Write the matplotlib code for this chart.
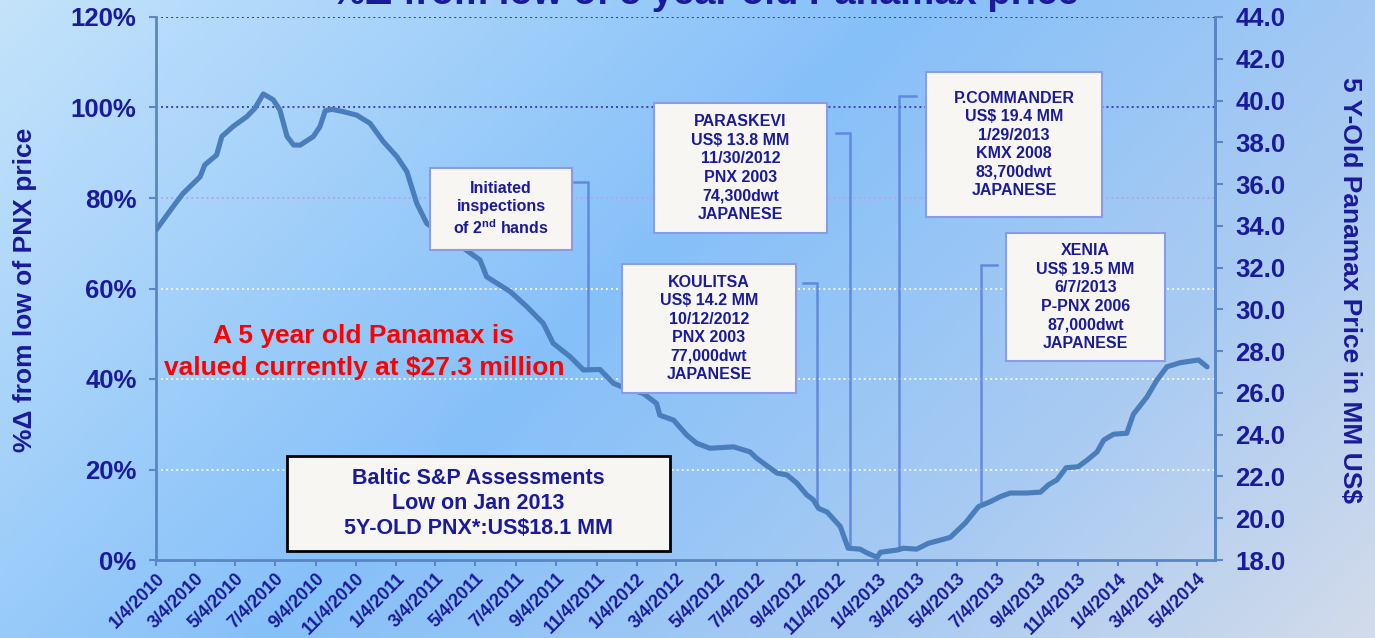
import datetime as dt
import numpy as np
import matplotlib
matplotlib.use("Agg")
import matplotlib.pyplot as plt
import matplotlib.dates as mdates
from matplotlib.patches import Rectangle
from matplotlib.colors import LinearSegmentedColormap
from matplotlib.transforms import ScaledTranslation

# ---------------- data ----------------
dates = ['2010-01-04', '2010-01-30', '2010-02-14', '2010-03-12', '2010-03-19', '2010-04-06',
         '2010-04-14', '2010-05-01', '2010-05-22', '2010-06-03', '2010-06-16', '2010-07-01',
         '2010-07-11', '2010-07-22', '2010-08-01', '2010-08-11', '2010-08-31', '2010-09-10',
         '2010-09-18', '2010-09-28', '2010-10-15', '2010-11-05', '2010-11-25', '2010-12-15',
         '2011-01-05', '2011-01-20', '2011-02-04', '2011-02-19', '2011-03-19', '2011-04-16',
         '2011-05-11', '2011-05-21', '2011-06-26', '2011-07-21', '2011-08-15', '2011-08-30',
         '2011-09-25', '2011-10-15', '2011-11-09', '2011-11-30', '2011-12-12',
         '2012-01-14', '2012-02-03', '2012-02-08', '2012-02-29', '2012-03-20', '2012-04-04',
         '2012-04-24', '2012-05-30', '2012-06-24', '2012-07-04', '2012-08-04', '2012-08-19',
         '2012-09-03', '2012-09-18', '2012-09-28', '2012-10-06', '2012-10-19', '2012-11-08',
         '2012-11-20', '2012-12-08', '2012-12-18',
         '2013-01-03', '2013-01-08', '2013-02-02', '2013-02-12', '2013-03-04', '2013-03-22',
         '2013-04-09', '2013-04-24', '2013-05-17', '2013-06-06', '2013-06-24', '2013-07-09',
         '2013-07-24', '2013-08-18', '2013-09-08', '2013-09-20', '2013-10-03', '2013-10-17',
         '2013-11-04', '2013-11-18', '2013-12-03', '2013-12-13', '2013-12-28',
         '2014-01-17', '2014-01-27', '2014-02-17', '2014-03-04', '2014-03-19', '2014-04-08',
         '2014-05-06', '2014-05-19']
pct_from_low = [72.9, 78.1, 81.0, 84.7, 87.3, 89.5, 93.6, 95.8, 98.0, 99.8, 103.0, 101.7,
                99.5, 93.6, 91.7, 91.7, 93.6, 95.8, 99.3, 99.6, 99.1, 98.3, 96.5, 92.5,
                89.1, 85.8, 78.8, 74.4, 71.6, 68.9, 66.3, 62.6, 59.3, 56.0, 52.3, 47.9,
                44.9, 42.0, 42.1, 39.0, 38.3,
                36.8, 34.6, 32.0, 30.9, 27.6, 25.8, 24.7, 25.0, 23.9, 22.5, 19.2, 18.8,
                17.0, 14.4, 13.3, 11.4, 10.6, 7.4, 2.6, 2.4, 1.6,
                0.6, 1.7, 2.2, 2.6, 2.4, 3.7, 4.4, 5.0, 8.2, 11.8, 12.9, 14.0,
                14.8, 14.8, 15.0, 16.6, 17.7, 20.4, 20.6, 22.1, 23.9, 26.5, 27.8,
                28.0, 32.2, 36.1, 39.8, 42.7, 43.6, 44.2, 42.7]

left_ticks = [0, 20, 40, 60, 80, 100, 120]
right_ticks = [18, 20, 22, 24, 26, 28, 30, 32, 34, 36, 38, 40, 42, 44]

callout_texts = ["Initiated\ninspections\nof 2$^{\\bf nd}$ hands",
                 "PARASKEVI\nUS$ 13.8 MM\n11/30/2012\nPNX 2003\n74,300dwt\nJAPANESE",
                 "KOULITSA\nUS$ 14.2 MM\n10/12/2012\nPNX 2003\n77,000dwt\nJAPANESE",
                 "P.COMMANDER\nUS$ 19.4 MM\n1/29/2013\nKMX 2008\n83,700dwt\nJAPANESE",
                 "XENIA\nUS$ 19.5 MM\n6/7/2013\nP-PNX 2006\n87,000dwt\nJAPANESE"]
callout_dates = ['2011-10-22', '2012-11-23', '2012-10-04', '2013-02-05', '2013-06-10']
callout_tops = [83.5, 94.4, 61.2, 102.5, 65.2]

title = "%\u0394 from low of 5 year old Panamax price"
left_label = "%\u0394 from low of PNX price"
right_label = "5 Y-Old Panamax Price in MM US$"
red_note = "A 5 year old Panamax is\nvalued currently at $27.3 million"
baltic_note = "Baltic S&P Assessments\nLow on Jan 2013\n5Y-OLD PNX*:US$18.1 MM"

# ---------------- style ----------------
plt.rcParams['font.family'] = ['Liberation Sans', 'DejaVu Sans']
plt.rcParams['mathtext.fontset'] = 'custom'
plt.rcParams['mathtext.rm'] = 'Liberation Sans'
plt.rcParams['mathtext.bf'] = 'Liberation Sans:bold'
plt.rcParams['mathtext.it'] = 'Liberation Sans:italic'

W, H = 1375, 638
NAVY = '#1a1a9c'
SPINE = '#5a86c4'
LINE = '#4a7dbb'

fig = plt.figure(figsize=(W / 100, H / 100), dpi=100)

# background gradient
bg = fig.add_axes([0, 0, 1, 1], zorder=-10)
yy, xx = np.mgrid[0:1:160j, 0:1:320j]
t = (xx * W + yy * H) / (W + H)
cmap = LinearSegmentedColormap.from_list(
    'bg', [(0, '#c4e3fb'), (0.45, '#86c0f9'), (0.75, '#a9cbf2'), (1, '#d2dbea')])
bg.imshow(t, cmap=cmap, aspect='auto', extent=[0, 1, 0, 1], origin='upper')
bg.axis('off')

x0, x1, y0, y1 = 156, 1215, 17, 560
ax = fig.add_axes([x0 / W, 1 - y1 / H, (x1 - x0) / W, (y1 - y0) / H])
ax.set_facecolor('none')

d = np.array([np.datetime64(s) for s in dates]).astype('datetime64[D]').astype(dt.date)
dn = mdates.date2num(d)
ax.plot(d, pct_from_low, color=LINE, lw=3.7, solid_joinstyle='round',
        solid_capstyle='round', zorder=4)

ax.set_ylim(0, 120)
ax.set_xlim(dt.date(2010, 1, 4), dt.date(2014, 5, 31))

# gridlines
grid_cols = {20: '#eef4ff', 40: '#eef4ff', 60: '#eef4ff', 80: '#b9a3e6', 100: '#4040b8', 120: '#3030b0'}
for v, c in grid_cols.items():
    ax.axhline(v, color=c, lw=1.4, ls=(0, (1, 1.6)), zorder=1)

ax.set_yticks(left_ticks)
ax.set_yticklabels([f"{v}%" for v in left_ticks])
xt = [dt.date(2010 + (m - 1) // 12, (m - 1) % 12 + 1, 4) for m in range(1, 54, 2)]
ax.set_xticks(xt)
ax.set_xticklabels([f"{x.month}/{x.day}/{x.year}" for x in xt], rotation=45,
                   ha='right', va='top', rotation_mode='anchor')
for lab in ax.get_xticklabels():
    lab.set_transform(lab.get_transform() + ScaledTranslation(4 / 72, 0, fig.dpi_scale_trans))

for s in ['left', 'bottom', 'right']:
    ax.spines[s].set_color(SPINE)
    ax.spines[s].set_linewidth(2)
ax.spines['top'].set_visible(False)
ax.tick_params(axis='y', color=SPINE, labelcolor=NAVY, length=5, width=1.5,
               labelsize=18.5, pad=9)
ax.tick_params(axis='x', color=SPINE, labelcolor=NAVY, length=4, width=1.5,
               labelsize=13, pad=3)
for lab in ax.get_yticklabels() + ax.get_xticklabels():
    lab.set_fontweight('bold')

ax2 = ax.twinx()
ax2.set_ylim(18, 44)
ax2.set_yticks(right_ticks)
ax2.set_yticklabels([f"{v:.1f}" for v in right_ticks])
ax2.spines['right'].set_color(SPINE)
ax2.spines['right'].set_linewidth(2)
for s in ['left', 'bottom', 'top']:
    ax2.spines[s].set_visible(False)
ax2.tick_params(axis='y', color=SPINE, labelcolor=NAVY, length=5.5, width=1.5,
                labelsize=18.5, pad=9)
for lab in ax2.get_yticklabels():
    lab.set_fontweight('bold')

# connectors from callouts to the curve
stub_days = [-22, -22, -22, 26, 24]
for cd, top, sd in zip(callout_dates, callout_tops, stub_days):
    cdt = dt.date.fromisoformat(cd)
    cx = mdates.date2num(cdt)
    yv = np.interp(cx, dn, pct_from_low)
    ax.plot([cx + sd, cx, cx], [top, top, yv], color='#5b7fd6', lw=1.8, alpha=0.85,
            zorder=3, solid_joinstyle='miter')

# callout boxes (pixel layout)
def box(px0, py0, px1, py1, text, fs=11.5, ec='#8b9ce4', lw=1.5, ls=1.29, color=NAVY):
    r = Rectangle((px0 / W, 1 - py1 / H), (px1 - px0) / W, (py1 - py0) / H,
                  transform=fig.transFigure, facecolor='#f7f6f2', edgecolor=ec,
                  linewidth=lw, zorder=10)
    fig.add_artist(r)
    fig.text((px0 + px1) / 2 / W, 1 - (py0 + py1) / 2 / H, text, ha='center', va='center',
             fontsize=fs, fontweight='bold', color=color, linespacing=ls, zorder=11)

box_rects = [(430, 168, 572, 250), (654, 103, 827, 233), (622, 264, 796, 393),
             (926, 72, 1102, 217), (1006, 233, 1165, 361)]
for (a, b, c, e), txt in zip(box_rects, callout_texts):
    box(a, b, c, e, txt)

box(287, 456, 670, 551, baltic_note, fs=15.5, ec='black', lw=2, ls=1.24, color=NAVY)

fig.text(364 / W, 1 - 352 / H, red_note, ha='center', va='center', color='#ff0000',
         fontsize=19, fontweight='bold', linespacing=1.45)

fig.text(25 / W, 1 - 290 / H, left_label, rotation=90, ha='center', va='center',
         fontsize=19, fontweight='bold', color=NAVY)
fig.text(1350 / W, 1 - 290 / H, right_label, rotation=-90, ha='center', va='center',
         fontsize=19, fontweight='bold', color=NAVY)
fig.text(705 / W, 1 - 4 / H, title, ha='center', va='baseline',
         fontsize=27.5, fontweight='bold', color=NAVY)

fig.savefig('out.png', dpi=100)
